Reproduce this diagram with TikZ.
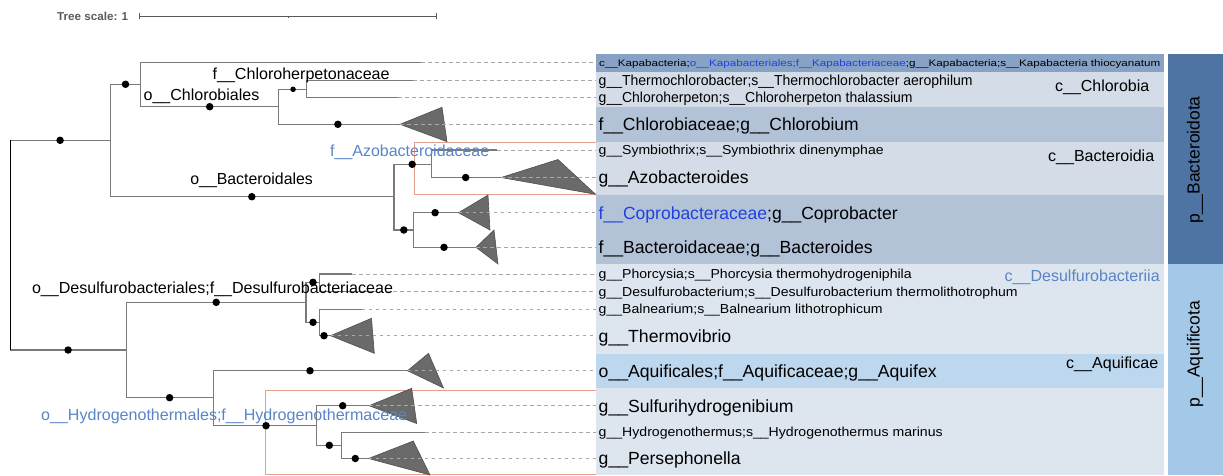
\documentclass[tikz,border=0pt]{standalone}
\usepackage{fontspec}
\setmainfont{Liberation Sans}
\usepackage{graphicx}

\definecolor{branch}{HTML}{7A7A7A}
\definecolor{leadgrey}{HTML}{A8A8A8}
\definecolor{cladegrey}{HTML}{6A6A6A}
\definecolor{cladeedge}{HTML}{505050}
\definecolor{hired}{HTML}{E6A08E}
\definecolor{bandK}{HTML}{88A2C6}
\definecolor{bandL}{HTML}{D3DCE7}
\definecolor{bandM}{HTML}{B2C3D8}
\definecolor{bandP}{HTML}{DDE5EF}
\definecolor{bandQ}{HTML}{BCD7EE}
\definecolor{phyA}{HTML}{4E74A4}
\definecolor{phyB}{HTML}{A4C8E8}
\definecolor{kblue}{HTML}{2040E0}
\definecolor{sblue}{HTML}{5A84C6}
\definecolor{scalegrey}{HTML}{5A5A5A}

% stretch a label to a given width, keeping its natural height
\newcommand{\fitw}[2]{\resizebox{#1pt}{\height}{#2}}

\tikzset{
  br/.style={draw=branch, line width=1.1pt},
  lead/.style={draw=leadgrey, line width=0.9pt, dash pattern=on 3.5pt off 3.5pt},
  clade/.style={fill=cladegrey, draw=cladeedge, line width=0.6pt},
  dotn/.style={circle, fill=black, inner sep=0pt, minimum size=7.5pt},
  dots/.style={circle, fill=black, inner sep=0pt, minimum size=5.5pt},
  hilite/.style={draw=hired, line width=0.8pt},
  lbase/.style={anchor=west, inner sep=0pt, text depth=0pt},
  lbig/.style={lbase, font=\fontsize{17.6}{20}\selectfont, text height=12.6pt},
  lmid/.style={lbase, font=\fontsize{14.5}{17}\selectfont, text height=10.4pt},
  lsmall/.style={lbase, font=\fontsize{13}{15}\selectfont, text height=9.3pt},
  ltiny/.style={lbase, font=\fontsize{9.5}{11}\selectfont, text height=6.8pt},
  clab/.style={lbase, font=\fontsize{16}{19}\selectfont, text height=11.5pt},
  phylab/.style={rotate=90, font=\fontsize{17.5}{20}\selectfont, inner sep=0pt},
}

\begin{document}
\begin{tikzpicture}[x=1pt, y=-1pt]
\useasboundingbox (0,0) rectangle (1223,475);

% ---- label bands ----
\fill[bandK] (596,54) rectangle (1164,71.7);
\fill[bandL] (596,71.7) rectangle (1164,107.3);
\fill[bandM] (596,107.3) rectangle (1164,141.7);
\fill[bandL] (596,141.7) rectangle (1164,195);
\fill[bandM] (596,195) rectangle (1164,264);
\fill[bandP] (596,264) rectangle (1164,354);
\fill[bandQ] (596,354) rectangle (1164,388);
\fill[bandP] (596,388) rectangle (1164,475);
% phylum strips
\fill[phyA] (1167.5,54) rectangle (1223,264);
\fill[phyB] (1167.5,264) rectangle (1223,475);

% ---- highlighted families ----
\draw[hilite] (596,142.3) -- (414.5,142.3) -- (414.5,194) -- (596,194);
\draw[hilite] (596,390.5) -- (265,390.5) -- (265,474) -- (596,474);

% ---- scale bar ----
\node[anchor=west, inner sep=0pt, font=\fontsize{11.5}{13}\selectfont\bfseries, text=scalegrey] (scl) at (57,16) {\fitw{71}{Tree scale: 1}};
\coordinate (sb1) at (139,16);
\coordinate (sb2) at (436,16);
\coordinate (sbm) at (288,16);
\draw[scalegrey, line width=0.9pt] (sb1) -- (sb2);
\draw[scalegrey, line width=0.9pt] ([yshift=-3pt]sb1) -- ([yshift=3pt]sb1);
\draw[scalegrey, line width=0.9pt] ([yshift=-3pt]sb2) -- ([yshift=3pt]sb2);
\draw[scalegrey, line width=0.9pt] (sbm) -- ([yshift=-2pt]sbm);

% ---- tree nodes (x of vertical bar, y of attachment) ----
\coordinate (R)  at (10.7,245.2);
\coordinate (A)  at (110.2,140.3);
\coordinate (A1) at (140.8,84.3);
\coordinate (A2) at (278.2,106.7);
\coordinate (A3) at (306.2,89.3);
\coordinate (B1) at (394,196.7);
\coordinate (B2) at (431.7,164.3);
\coordinate (B3) at (413.3,230);
\coordinate (C)  at (126.3,350);
\coordinate (C1) at (306,302.3);
\coordinate (C2) at (319.5,282.3);
\coordinate (C3) at (319.5,322.3);
\coordinate (C4) at (213.5,397.7);
\coordinate (C5) at (316.7,425.7);
\coordinate (C6) at (341.7,445.3);
% leaves and collapsed-clade tips
\coordinate (L1)  at (421,62.7);
\coordinate (L2)  at (413.3,80.3);
\coordinate (L3)  at (398,97.7);
\coordinate (T4)  at (400,124.3);
\coordinate (L5)  at (497,150);
\coordinate (T6)  at (501,177.5);
\coordinate (T7)  at (458.5,212.7);
\coordinate (T8)  at (476,247.3);
\coordinate (L9)  at (352,274);
\coordinate (L10) at (372,291.7);
\coordinate (L11) at (361.5,309.3);
\coordinate (T12) at (330.5,335.7);
\coordinate (T13) at (407.5,370.7);
\coordinate (T14) at (369,405.7);
\coordinate (L15) at (425,432.3);
\coordinate (T16) at (368.5,458.5);
\coordinate (E) at (596,0);

% ---- branches ----
\foreach \p/\c in {R/A,R/C,A/A1,A/B1,A1/L1,A1/A2,A2/A3,A2/T4,A3/L2,A3/L3,
                   B1/B2,B1/B3,B2/L5,B2/T6,B3/T7,B3/T8,
                   C/C1,C/C4,C1/C2,C1/C3,C2/L9,C2/L10,C3/L11,C3/T12,
                   C4/T13,C4/C5,C5/T14,C5/C6,C6/L15,C6/T16}
  \draw[br] (\p) |- (\c);
\draw[black, line width=1.1pt] (R |- A) -- (R |- C);

% ---- collapsed clades ----
\filldraw[clade] (T4)  -- (442,107.3) -- (447,141.7) -- cycle;
\filldraw[clade] (T6)  -- (558,159.5) -- (595.5,194.3) -- cycle;
\filldraw[clade] (T7)  -- (488,195) -- (490,230) -- cycle;
\filldraw[clade] (T8)  -- (494,230) -- (498,264) -- cycle;
\filldraw[clade] (T12) -- (371.5,318.3) -- (374.3,353.3) -- cycle;
\filldraw[clade] (T13) -- (428.5,353.3) -- (443.5,388) -- cycle;
\filldraw[clade] (T14) -- (411.7,388.3) -- (416.7,423.5) -- cycle;
\filldraw[clade] (T16) -- (413.3,441) -- (430,475) -- cycle;

% ---- leader lines ----
\foreach \l in {L1,L2,L3,T4,L5,T6,T7,T8,L9,L10,L11,T12,T13,T14,L15,T16}
  \draw[lead] (\l) -- (\l -| E);

% ---- support dots ----
\node[dotn] (d1)  at (60.1,140.3) {};
\node[dotn] (d2)  at (125.5,84.3) {};
\node[dotn] (d3)  at (209.7,106.7) {};
\node[dots] (d4)  at (293.1,89.3) {};
\node[dotn] (d5)  at (337.9,124.3) {};
\node[dotn] (d6)  at (251.8,196.7) {};
\node[dotn] (d7)  at (412.2,164.3) {};
\node[dotn] (d8)  at (465.7,177.5) {};
\node[dotn] (d9)  at (403.8,230) {};
\node[dotn] (d10) at (435.1,212.7) {};
\node[dotn] (d11) at (444,247.3) {};
\node[dotn] (d12) at (68.1,350) {};
\node[dotn] (d13) at (216.2,302.3) {};
\node[dotn] (d14) at (313,282.3) {};
\node[dotn] (d15) at (313,322.3) {};
\node[dotn] (d16) at (324,335.7) {};
\node[dotn] (d17) at (169.6,397.7) {};
\node[dotn] (d18) at (310,370.7) {};
\node[dotn] (d19) at (266,425.7) {};
\node[dotn] (d20) at (342.7,405.7) {};
\node[dotn] (d21) at (329.3,445.3) {};
\node[dotn] (d22) at (355.3,458.5) {};

% ---- clade names on the tree ----
\node[clab] (nChp) at (212.4,73.3) {\fitw{177}{f\_\_Chloroherpetonaceae}};
\node[clab] (nChl) at (143.5,94.3) {\fitw{115.6}{o\_\_Chlorobiales}};
\node[clab] (nBac) at (190.2,178.3) {\fitw{122.5}{o\_\_Bacteroidales}};
\node[clab, text=sblue] (nAzo) at (330,150.7) {\fitw{159}{f\_\_Azobacteroidaceae}};
\node[clab] (nDes) at (31.8,287.7) {\fitw{361}{o\_\_Desulfurobacteriales;f\_\_Desulfurobacteriaceae}};
\node[clab, text=sblue] (nHyd) at (41,414.3) {\fitw{366}{o\_\_Hydrogenothermales;f\_\_Hydrogenothermaceae}};

% ---- leaf labels ----
\node[ltiny]  (r1)  at (599,62.7) {\fitw{561}{c\_\_Kapabacteria;\textcolor{kblue}{o\_\_Kapabacteriales;f\_\_Kapabacteriaceae};g\_\_Kapabacteria;s\_\_Kapabacteria thiocyanatum}};
\node[lmid]   (r2)  at (598.5,80.3) {\fitw{374}{g\_\_Thermochlorobacter;s\_\_Thermochlorobacter aerophilum}};
\node[lmid]   (r3)  at (598.5,97.7) {\fitw{314}{g\_\_Chloroherpeton;s\_\_Chloroherpeton thalassium}};
\node[lbig]   (r4)  at (598.5,124.3) {\fitw{260}{f\_\_Chlorobiaceae;g\_\_Chlorobium}};
\node[lsmall] (r5)  at (598.5,150) {\fitw{285}{g\_\_Symbiothrix;s\_\_Symbiothrix dinenymphae}};
\node[lbig]   (r6)  at (598.5,177.5) {\fitw{150}{g\_\_Azobacteroides}};
\node[lbig]   (r7)  at (598.5,212.7) {\fitw{299}{\textcolor{kblue}{f\_\_Coprobacteraceae};g\_\_Coprobacter}};
\node[lbig]   (r8)  at (598.5,247.3) {\fitw{274}{f\_\_Bacteroidaceae;g\_\_Bacteroides}};
\node[lsmall] (r9)  at (598.5,274) {\fitw{313}{g\_\_Phorcysia;s\_\_Phorcysia thermohydrogeniphila}};
\node[lsmall] (r10) at (598.5,291.7) {\fitw{419}{g\_\_Desulfurobacterium;s\_\_Desulfurobacterium thermolithotrophum}};
\node[lsmall] (r11) at (598.5,309.3) {\fitw{284}{g\_\_Balnearium;s\_\_Balnearium lithotrophicum}};
\node[lbig]   (r12) at (598.5,335.7) {\fitw{132.6}{g\_\_Thermovibrio}};
\node[lbig]   (r13) at (598.5,370.7) {\fitw{338}{o\_\_Aquificales;f\_\_Aquificaceae;g\_\_Aquifex}};
\node[lbig]   (r14) at (598.5,405.7) {\fitw{195}{g\_\_Sulfurihydrogenibium}};
\node[lsmall] (r15) at (598.5,432.3) {\fitw{344}{g\_\_Hydrogenothermus;s\_\_Hydrogenothermus marinus}};
\node[lbig]   (r16) at (598.5,458.5) {\fitw{142}{g\_\_Persephonella}};

% ---- class names ----
\node[clab] (cChl) at (1055,86) {\fitw{94}{c\_\_Chlorobia}};
\node[clab] (cBac) at (1048,156) {\fitw{106}{c\_\_Bacteroidia}};
\node[clab, text=sblue] (cDes) at (1004.5,275.7) {\fitw{155}{c\_\_Desulfurobacteriia}};
\node[clab] (cAqu) at (1066,362.7) {\fitw{92}{c\_\_Aquificae}};

% ---- phylum names ----
\node[phylab] (pBac) at (1195,160) {p\_\_Bacteroidota};
\node[phylab] (pAqu) at (1195,354) {p\_\_Aquificota};
\end{tikzpicture}
\end{document}
